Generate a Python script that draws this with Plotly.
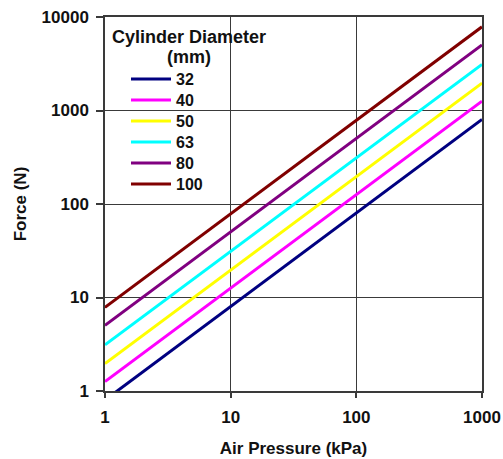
import plotly.graph_objects as go

pressure_kpa = [1, 1000]
diameters = ["32", "40", "50", "63", "80", "100"]
force_32 = [0.80, 804]
force_40 = [1.26, 1257]
force_50 = [1.96, 1963]
force_63 = [3.12, 3117]
force_80 = [5.03, 5027]
force_100 = [7.85, 7854]
forces = [force_32, force_40, force_50, force_63, force_80, force_100]
colors = ["#000080", "#FF00FF", "#FFFF00", "#00FFFF", "#800080", "#800000"]
x_ticks = [1, 10, 100, 1000]
y_ticks = [1, 10, 100, 1000, 10000]

FONT = "Liberation Sans, Arial, sans-serif"
FS = 17

W, H = 503, 459
ML, MR, MT, MB = 105, 21, 17, 68
plot_h = H - MT - MB

fig = go.Figure()
legend_ids = ["legend", "legend2", "legend3", "legend4", "legend5", "legend6"]
for name, f, c, lg in zip(diameters, forces, colors, legend_ids):
    fig.add_trace(go.Scatter(x=pressure_kpa, y=f, mode="lines",
                             name="<b>%s</b>" % name, legend=lg,
                             line=dict(color=c, width=3)))

axis_common = dict(
    type="log", showgrid=True, gridcolor="#3a3a3a", gridwidth=1.3,
    showline=True, linecolor="#3a3a3a", linewidth=1.5, mirror=True,
    ticks="outside", tickcolor="#3a3a3a", tickwidth=1.5,
    zeroline=False, automargin=False,
    tickfont=dict(family=FONT, size=FS, color="#111111"),
)

legend_layout = {}
item_px = [79, 100, 121, 142, 163, 184]  # vertical centre of each legend row (px from top)
for lg, yp in zip(legend_ids, item_px):
    legend_layout[lg] = dict(
        x=0.0557, y=(H - MB - yp) / plot_h, xanchor="left", yanchor="middle",
        bgcolor="rgba(0,0,0,0)", borderwidth=0,
        font=dict(family=FONT, size=16, color="#111111"), itemwidth=40)

fig.update_layout(
    width=W, height=H,
    margin=dict(l=ML, r=MR, t=MT, b=MB, autoexpand=False),
    paper_bgcolor="white", plot_bgcolor="white",
    font=dict(family=FONT, color="#111111"),
    xaxis=dict(range=[0, 3], tickvals=x_ticks, ticklen=5, ticklabelstandoff=5,
               ticktext=["<b>%d</b>" % v for v in x_ticks],
               title=dict(text="<b>Air Pressure (kPa)</b>", font=dict(size=FS), standoff=16),
               **axis_common),
    yaxis=dict(range=[0, 4], tickvals=y_ticks, ticklen=7, ticklabelstandoff=4,
               ticktext=["<b>%d</b>" % v for v in y_ticks],
               title=dict(text="<b>Force (N)</b>", font=dict(size=FS), standoff=11),
               **axis_common),
    showlegend=True,
    annotations=[
        dict(text="<b>Cylinder Diameter</b>", xref="paper", yref="paper",
             x=0.223, y=(H - MB - 37) / plot_h, xanchor="center", yanchor="middle",
             showarrow=False, font=dict(family=FONT, size=18, color="#111111")),
        dict(text="<b>(mm)</b>", xref="paper", yref="paper",
             x=0.223, y=(H - MB - 57) / plot_h, xanchor="center", yanchor="middle",
             showarrow=False, font=dict(family=FONT, size=18, color="#111111")),
    ],
    **legend_layout,
)

fig.write_html(
    "out.html",
    config={"displayModeBar": False},
    post_script="document.body.style.margin='0';document.body.style.overflow='hidden';",
)
